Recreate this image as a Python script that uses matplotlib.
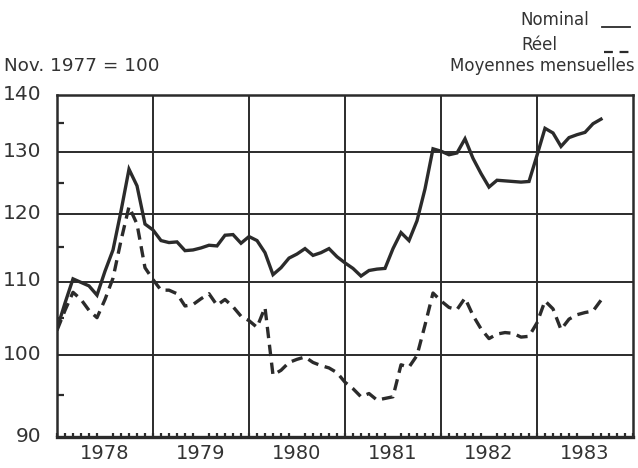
import matplotlib
matplotlib.use("Agg")
import matplotlib.pyplot as plt
import matplotlib.transforms as mtransforms
from matplotlib.ticker import FixedLocator, NullFormatter, FixedFormatter
import numpy as np

# Monthly averages, Jan 1978 .. Sep 1983 (Nov. 1977 = 100)
start_year = 1978
years = ["1978", "1979", "1980", "1981", "1982", "1983"]
nominal = [103.5, 107.0, 110.4, 109.9, 109.4, 108.1, 111.5, 114.6, 120.5, 127.2, 124.5, 118.5,
           117.6, 116.0, 115.7, 115.8, 114.5, 114.6, 114.9, 115.3, 115.2, 116.8, 116.9, 115.6,
           116.6, 116.0, 114.2, 111.0, 112.0, 113.4, 114.0, 114.8, 113.8, 114.2, 114.8, 113.6,
           112.7, 111.9, 110.8, 111.6, 111.8, 111.9, 114.8, 117.2, 116.0, 119.0, 124.0, 130.6,
           130.2, 129.6, 129.9, 132.3, 129.0, 126.5, 124.3, 125.4, 125.3, 125.2, 125.1, 125.2,
           129.5, 134.1, 133.3, 131.0, 132.5, 133.0, 133.4, 134.9, 135.7]
reel = [103.3, 106.0, 108.5, 107.5, 106.0, 105.0, 107.5, 110.5, 116.0, 121.2, 118.5, 112.0,
        110.3, 108.8, 108.8, 108.3, 106.6, 106.8, 107.6, 108.3, 106.7, 107.5, 106.5, 105.2,
        104.6, 103.7, 106.4, 97.5, 98.1, 99.1, 99.5, 99.8, 99.1, 98.7, 98.4, 97.8,
        96.6, 95.8, 94.8, 95.2, 94.4, 94.6, 94.8, 98.8, 98.5, 100.0, 104.0, 108.4,
        107.3, 106.4, 106.1, 107.7, 105.3, 103.5, 102.2, 102.8, 103.0, 102.9, 102.4, 102.5,
        104.3, 107.3, 106.2, 103.4, 104.8, 105.4, 105.7, 105.9, 107.4]
y_major = [90, 100, 110, 120, 130, 140]
y_minor = [95, 105, 115, 125, 135]

months = np.arange(len(nominal))
ink = "#2b2b2b"
txt = "#333333"

fig = plt.figure(figsize=(6.38, 4.68), dpi=100)
ax = fig.add_axes([57/638, 1-437/468, 576/638, 342/468])

ax.set_yscale("log")
ax.set_ylim(90, 140)
ax.set_xlim(0, 12*len(years))

ax.plot(months, nominal, color=ink, lw=2.4, solid_joinstyle="miter", zorder=3)
ax.plot(months, reel, color=ink, lw=2.4, dashes=(3.4, 2.0), zorder=3)

# grid
for v in y_major[1:-1]:
    ax.axhline(v, color=ink, lw=1.4, zorder=1)
for i in range(1, len(years)):
    ax.axvline(12*i, color=ink, lw=1.4, zorder=1)

for s in ax.spines.values():
    s.set_color(ink)
    s.set_linewidth(1.8)
ax.spines["bottom"].set_linewidth(2.4)

ax.yaxis.set_major_locator(FixedLocator(y_major))
ax.yaxis.set_major_formatter(FixedFormatter([str(v) for v in y_major]))
ax.yaxis.set_minor_locator(FixedLocator(y_minor))
ax.yaxis.set_minor_formatter(NullFormatter())
ax.tick_params(axis="y", which="major", length=0, pad=11, labelsize=14.5, labelcolor=txt)
ax.tick_params(axis="y", which="minor", direction="in", length=5, width=1.6, color=ink)

ax.xaxis.set_major_locator(FixedLocator([12*i + 6 for i in range(len(years))]))
ax.xaxis.set_major_formatter(FixedFormatter(years))
ax.xaxis.set_minor_locator(FixedLocator(np.arange(0, 12*len(years)+1, 1)))
ax.tick_params(axis="x", which="major", length=0, pad=5, labelsize=14, labelcolor=txt)
ax.tick_params(axis="x", which="minor", direction="in", length=3, width=1.6, color=ink)

off = mtransforms.ScaledTranslation(0, 3/100, fig.dpi_scale_trans)
for lab in ax.get_yticklabels():
    lab.set_transform(lab.get_transform() + off)

# header texts
def fx(px):
    return px/638
def fy(py):
    return 1 - py/468

fig.text(fx(4), fy(66), "Nov. 1977 = 100", fontsize=13.2, color=txt, va="center", ha="left")
fig.text(fx(635), fy(66), "Moyennes mensuelles", fontsize=12, color=txt, va="center", ha="right")
fig.text(fx(520), fy(20), "Nominal", fontsize=12, color=txt, va="center", ha="left")
fig.text(fx(521), fy(45), "Réel", fontsize=12, color=txt, va="center", ha="left")

fig.add_artist(plt.Line2D([fx(602), fx(630)], [fy(27), fy(27)], color=ink, lw=1.3))
fig.add_artist(plt.Line2D([fx(604), fx(630)], [fy(52), fy(52)], color=ink, lw=1.6, dashes=(4, 3)))

fig.savefig("out.png", dpi=100, facecolor="white")
